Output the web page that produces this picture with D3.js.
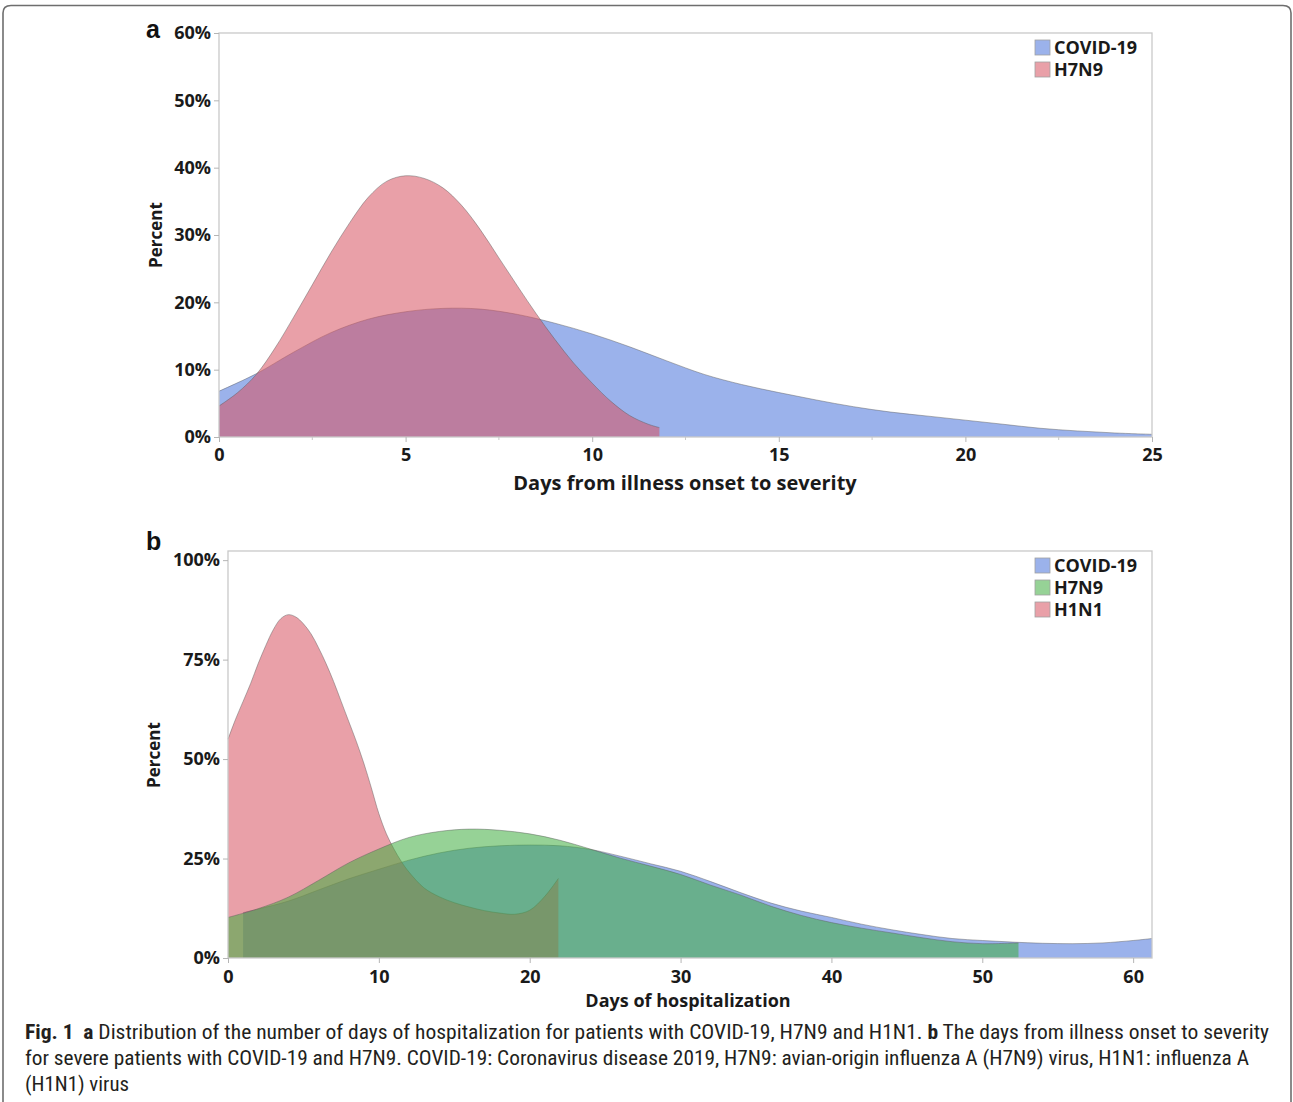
<!DOCTYPE html>
<html><head><meta charset="utf-8">
<script src="https://cdn.jsdelivr.net/npm/d3@7"></script>
<style>body{margin:0;background:#fff}svg{display:block}</style>
</head><body>
<svg id="c" width="1293" height="1102"></svg>
<script>
// ---------- Panel a data: days from illness onset to severity ----------
const aCovidDays = [0,1,2,3,4,5,6,7,8,9,10,11,12,13,14,15,16,17,18,19,20,21,22,23,24,25];
const aCovidPct  = [6.8,9.4,12.6,15.5,17.5,18.6,19.1,19.0,18.2,16.9,15.3,13.4,11.3,9.3,7.8,6.6,5.5,4.5,3.7,3.1,2.5,1.9,1.3,0.9,0.6,0.4];
const aH7n9Days  = [0,0.5,1,1.5,2,2.5,3,3.5,4,4.5,5,5.5,6,6.5,7,7.5,8,8.5,9,9.5,10,10.5,11,11.5,11.8];
const aH7n9Pct   = [4.6,6.6,9.3,13.2,17.8,22.6,27.4,31.8,35.6,38.0,38.8,38.4,37.0,34.4,30.8,26.6,22.4,18.3,14.5,11.0,8.0,5.3,3.2,1.9,1.4];
const aXTicks = [0,5,10,15,20,25];
const aYTicks = [0,10,20,30,40,50,60];

// ---------- Panel b data: days of hospitalization ----------
const bCovidDays = [1,2,4,6,8,10,12,14,16,18,20,22,24,26,28,30,32,34,36,38,40,42,44,46,48,50,52,54,56,58,60,61.25];
const bCovidPct  = [11.4,12.3,14.3,17.1,19.9,22.3,24.6,26.4,27.6,28.2,28.4,28.2,27.3,25.6,23.7,21.8,19.2,16.4,13.8,11.8,10.2,8.5,7.1,5.9,4.9,4.4,4.0,3.7,3.6,3.8,4.4,4.9];
const bH7n9Days  = [0,2,4,6,8,10,12,14,16,18,20,22,24,26,28,30,32,34,36,38,40,42,44,46,48,50,52.4];
const bH7n9Pct   = [10.2,12.4,15.3,19.5,23.9,27.4,30.3,31.8,32.4,32.1,31.2,29.6,27.4,25.1,23.1,21.0,18.3,15.8,13.0,10.7,8.9,7.5,6.3,5.1,4.1,3.6,3.8];
const bH1n1Days  = [0,0.5,1,1.5,2,2.5,3,3.5,4,4.5,5,5.5,6,6.5,7,7.5,8,8.5,9,9.5,10,10.5,11,11.5,12,13,14,15,16,17,18,19,20,21,21.9];
const bH1n1Pct   = [55,60,64.5,69,74,78.5,82.5,85.3,86.3,85.7,84,81.5,78,74,69.5,64.5,59.5,54.5,49,42.8,36.3,31.2,27.4,24.2,21.6,17.6,15.4,13.9,12.8,11.9,11.3,11,12,15.5,20];
const bXTicks = [0,10,20,30,40,50,60];
const bYTicks = [0,25,50,75,100];

const seriesColors = {
  covid: "rgb(73,115,219)",
  h7n9a: "rgb(215,82,97)",
  h7n9b: "rgb(64,173,64)",
  h1n1:  "rgb(215,82,97)"
};
const ALPHA = 0.55;

const svg = d3.select("#c");
const FONT = "'Open Sans', 'Noto Sans', sans-serif";
const txt = "#1a1a1a";

svg.append("path")
  .attr("d","M3,1110 L3,13 Q3,5.5 11,5.5 L1283,5.5 Q1291,5.5 1291,13 L1291,1110")
  .attr("fill","none").attr("stroke","#6e6e6e").attr("stroke-width",1.6);

function zip(xs, ys){ return xs.map((d,i)=>({x:d,y:ys[i]})); }

function panel(cfg){
  const x = d3.scaleLinear().domain(cfg.xDomain).range(cfg.xRange);
  const y = d3.scaleLinear().domain(cfg.yDomain).range(cfg.yRange);
  const g = svg.append("g");
  const [x0,x1] = cfg.xRange, [y0,y1] = cfg.yRange;
  const curve = d3.curveCatmullRom.alpha(0.5);

  cfg.series.forEach(s=>{
    const data = zip(s.days, s.pct);
    const area = d3.area().x(d=>x(d.x)).y0(y(0)).y1(d=>y(d.y)).curve(curve);
    const line = d3.line().x(d=>x(d.x)).y(d=>y(d.y)).curve(curve);
    g.append("path").datum(data).attr("d",area)
      .attr("fill",s.color).attr("fill-opacity",ALPHA);
    g.append("path").datum(data).attr("d",line)
      .attr("fill","none").attr("stroke","rgba(90,90,90,0.45)").attr("stroke-width",1);
  });

  g.append("rect").attr("x",x0).attr("y",y1).attr("width",x1-x0).attr("height",y0-y1)
    .attr("fill","none").attr("stroke","#c9c9c9").attr("stroke-width",1.3);

  if(cfg.xMinor){
    g.selectAll(".mx").data(cfg.xMinor).enter().append("line")
      .attr("x1",d=>x(d)).attr("x2",d=>x(d)).attr("y1",y0).attr("y2",y0+3)
      .attr("stroke","#c9c9c9");
  }

  const ax = g.append("g").attr("transform",`translate(0,${y0})`)
    .call(d3.axisBottom(x).tickValues(cfg.xTicks).tickSize(5).tickPadding(cfg.xPad).tickFormat(d3.format("d")));
  const ay = g.append("g").attr("transform",`translate(${x0},0)`)
    .call(d3.axisLeft(y).tickValues(cfg.yTicks).tickSize(5).tickPadding(3).tickFormat(d=>d+"%"));
  [ax,ay].forEach(a=>{
    a.select(".domain").remove();
    a.selectAll(".tick line").attr("stroke","#b5b5b5");
    a.selectAll(".tick text").attr("font-family",FONT).attr("font-weight",700)
      .attr("font-size",cfg.tickFont).attr("fill",txt);
  });

  g.append("text").attr("x",cfg.xTitlePos[0]).attr("y",cfg.xTitlePos[1])
    .attr("text-anchor","middle").attr("font-family",FONT).attr("font-weight",700)
    .attr("font-size",cfg.xTitleFont).attr("fill",txt).text(cfg.xTitle);
  g.append("text").attr("transform",`translate(${cfg.yTitlePos[0]},${cfg.yTitlePos[1]}) rotate(-90)`)
    .attr("text-anchor","middle").attr("font-family",FONT).attr("font-weight",700)
    .attr("font-size",17).attr("fill",txt).text("Percent");

  g.append("text").attr("x",cfg.letterPos[0]).attr("y",cfg.letterPos[1])
    .attr("font-family","'Liberation Sans', Arial, sans-serif").attr("font-weight",700)
    .attr("font-size",25).attr("fill","#111").text(cfg.letter);

  cfg.legend.forEach((s,i)=>{
    const ly = cfg.legendY + i*22;
    g.append("rect").attr("x",1035).attr("y",ly).attr("width",15).attr("height",15)
      .attr("fill",s.color).attr("fill-opacity",ALPHA).attr("stroke","#a0a0a0").attr("stroke-width",0.8);
    g.append("text").attr("x",1054).attr("y",ly+14).attr("font-family",FONT).attr("font-weight",700)
      .attr("font-size",18).attr("fill",txt).text(s.name);
  });
}

panel({
  xDomain:[0,25], yDomain:[0,60], xRange:[219,1152], yRange:[437,33],
  xTicks:aXTicks, yTicks:aYTicks, xMinor:[2.5,7.5,12.5,17.5,22.5], xPad:6,
  tickFont:18, xTitle:"Days from illness onset to severity", xTitleFont:20,
  xTitlePos:[685,490], yTitlePos:[162,235], letter:"a", letterPos:[146,38],
  series:[
    {name:"COVID-19", days:aCovidDays, pct:aCovidPct, color:seriesColors.covid},
    {name:"H7N9", days:aH7n9Days, pct:aH7n9Pct, color:seriesColors.h7n9a}
  ],
  legend:[
    {name:"COVID-19", color:seriesColors.covid},
    {name:"H7N9", color:seriesColors.h7n9a}
  ],
  legendY:40
});

panel({
  xDomain:[0,61.25], yDomain:[0,102.3], xRange:[228,1152], yRange:[958,551],
  xTicks:bXTicks, yTicks:bYTicks, xMinor:null, xPad:7,
  tickFont:18, xTitle:"Days of hospitalization", xTitleFont:18,
  xTitlePos:[688,1007], yTitlePos:[160,755], letter:"b", letterPos:[146,550],
  series:[
    {name:"COVID-19", days:bCovidDays, pct:bCovidPct, color:seriesColors.covid},
    {name:"H1N1", days:bH1n1Days, pct:bH1n1Pct, color:seriesColors.h1n1},
    {name:"H7N9", days:bH7n9Days, pct:bH7n9Pct, color:seriesColors.h7n9b}
  ],
  legend:[
    {name:"COVID-19", color:seriesColors.covid},
    {name:"H7N9", color:seriesColors.h7n9b},
    {name:"H1N1", color:seriesColors.h1n1}
  ],
  legendY:558
});

const CAP = "'Liberation Sans Narrow', 'Roboto Condensed', 'Liberation Sans', sans-serif";
const capLines = [
  {y:1039, len:1244, parts:[["Fig. 1",700],["\u2002",400],["a",700],[" Distribution of the number of days of hospitalization for patients with COVID-19, H7N9 and H1N1. ",400],["b",700],[" The days from illness onset to severity",400]]},
  {y:1065, len:1224, parts:[["for severe patients with COVID-19 and H7N9. COVID-19: Coronavirus disease 2019, H7N9: avian-origin influenza A (H7N9) virus, H1N1: influenza A",400]]},
  {y:1091, len:104, parts:[["(H1N1) virus",400]]}
];
capLines.forEach(l=>{
  const t = svg.append("text").attr("x",25).attr("y",l.y).attr("font-family",CAP)
    .attr("font-size",20).attr("fill","#231f20");
  if(l.len) t.attr("textLength",l.len).attr("lengthAdjust","spacingAndGlyphs");
  l.parts.forEach(p=>t.append("tspan").attr("font-weight",p[1]).text(p[0]));
});
</script>
</body></html>
